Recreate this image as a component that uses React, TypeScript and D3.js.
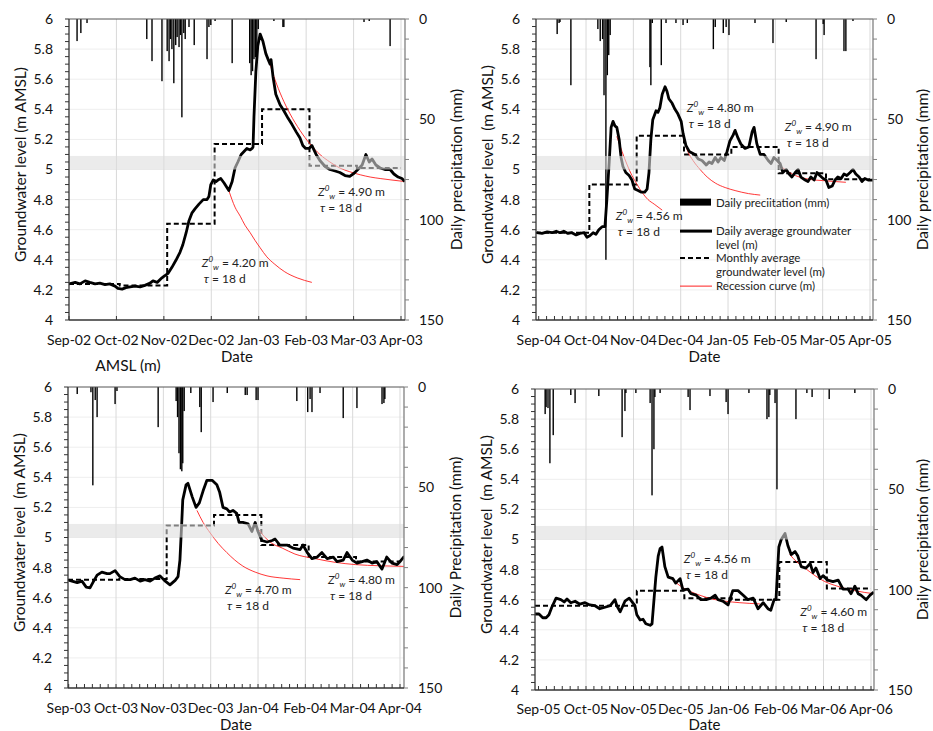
import React from "react";
import * as d3 from "d3";

const W = 933;
const H = 731;
const FONT = "Lato, 'Open Sans', sans-serif";

// x values are months since 1 September (0 = 1 Sep, 7 = 1 Apr)
// daily average groundwater level (m AMSL)
const gw0203 = [[0,4.24],[.13,4.25],[.23,4.24],[.34,4.26],[.44,4.25],[.55,4.24],[.65,4.245],[.76,4.235],[.86,4.24],[.97,4.225],[1.03,4.21],[1.12,4.205],[1.2,4.215],[1.29,4.22],[1.39,4.225],[1.5,4.22],[1.6,4.23],[1.71,4.245],[1.77,4.26],[1.86,4.25],[1.96,4.28],[2,4.29],[2.09,4.31],[2.17,4.35],[2.26,4.4],[2.34,4.45],[2.4,4.5],[2.47,4.58],[2.53,4.66],[2.59,4.71],[2.66,4.74],[2.74,4.77],[2.83,4.8],[2.91,4.8],[2.95,4.82],[2.99,4.9],[3.04,4.93],[3.1,4.92],[3.14,4.93],[3.2,4.94],[3.27,4.91],[3.33,4.88],[3.37,4.86],[3.44,4.92],[3.5,5.01],[3.56,5.05],[3.63,5.1],[3.69,5.12],[3.75,5.14],[3.82,5.13],[3.86,5.14],[3.88,5.15],[3.9,5.35],[3.94,5.65],[3.98,5.82],[4.03,5.9],[4.09,5.85],[4.15,5.77],[4.2,5.73],[4.24,5.7],[4.26,5.73],[4.3,5.62],[4.36,5.5],[4.45,5.43],[4.53,5.39],[4.62,5.34],[4.7,5.3],[4.79,5.25],[4.87,5.21],[4.93,5.16],[4.99,5.14],[5.06,5.14],[5.12,5.16],[5.21,5.1],[5.29,5.06],[5.4,5.02],[5.5,5],[5.61,4.99],[5.71,4.98],[5.82,4.96],[5.92,4.955],[6.01,4.975],[6.09,5],[6.18,5.03],[6.26,5.1],[6.33,5.05],[6.39,5.07],[6.47,5.03],[6.56,5.01],[6.66,5],[6.77,5],[6.85,4.97],[6.94,4.95],[7.02,4.94],[7.08,4.92]];
const gw0405 = [[-0.04,4.58],[.07,4.575],[.18,4.585],[.28,4.58],[.37,4.59],[.45,4.58],[.53,4.59],[.62,4.575],[.7,4.58],[.79,4.565],[.87,4.575],[.96,4.58],[1.02,4.55],[1.08,4.56],[1.15,4.58],[1.21,4.57],[1.27,4.6],[1.34,4.62],[1.4,4.62],[1.44,4.8],[1.49,5.05],[1.53,5.28],[1.57,5.32],[1.61,5.29],[1.65,5.28],[1.7,5.2],[1.74,5.08],[1.78,5.02],[1.84,4.98],[1.91,4.96],[1.97,4.93],[2.03,4.87],[2.1,4.86],[2.16,4.85],[2.24,4.85],[2.29,4.87],[2.33,4.98],[2.37,5.2],[2.41,5.33],[2.48,5.39],[2.52,5.38],[2.56,5.41],[2.61,5.5],[2.67,5.55],[2.71,5.52],[2.75,5.47],[2.82,5.44],[2.88,5.4],[2.94,5.37],[3.01,5.32],[3.05,5.24],[3.11,5.16],[3.18,5.12],[3.24,5.11],[3.3,5.1],[3.37,5.07],[3.45,5.06],[3.54,5.03],[3.6,5.05],[3.66,5.04],[3.73,5.08],[3.79,5.05],[3.85,5.08],[3.92,5.06],[3.98,5.12],[4.04,5.19],[4.11,5.23],[4.15,5.26],[4.21,5.21],[4.27,5.17],[4.36,5.14],[4.44,5.15],[4.51,5.25],[4.55,5.28],[4.61,5.17],[4.68,5.1],[4.76,5.1],[4.85,5.06],[4.91,5.04],[4.97,5.08],[5.04,5.06],[5.1,5.04],[5.16,4.98],[5.23,5],[5.29,4.97],[5.35,4.95],[5.42,4.98],[5.48,5],[5.54,4.95],[5.63,4.93],[5.69,4.92],[5.75,4.95],[5.82,4.93],[5.88,4.98],[5.94,4.96],[6.01,4.94],[6.07,4.93],[6.13,4.88],[6.2,4.89],[6.26,4.93],[6.32,4.95],[6.39,4.94],[6.45,4.97],[6.51,4.96],[6.58,4.98],[6.64,5],[6.7,4.97],[6.77,4.95],[6.83,4.92],[6.89,4.94],[6.96,4.93],[7.06,4.93]];
const gw0304 = [[0,4.717],[.07,4.71],[.18,4.7],[.28,4.71],[.37,4.67],[.45,4.665],[.51,4.7],[.6,4.75],[.7,4.77],[.81,4.76],[.87,4.76],[.98,4.78],[1.08,4.74],[1.19,4.72],[1.3,4.72],[1.4,4.73],[1.51,4.71],[1.61,4.72],[1.72,4.71],[1.82,4.73],[1.93,4.745],[2.04,4.71],[2.14,4.685],[2.25,4.715],[2.31,4.74],[2.35,4.85],[2.39,5.11],[2.41,5.25],[2.48,5.35],[2.52,5.36],[2.61,5.27],[2.69,5.2],[2.76,5.23],[2.84,5.31],[2.92,5.38],[3.03,5.38],[3.13,5.35],[3.19,5.3],[3.26,5.2],[3.34,5.19],[3.4,5.17],[3.47,5.18],[3.55,5.16],[3.6,5.1],[3.68,5.1],[3.79,5.09],[3.87,5.04],[3.94,5.1],[4,5.04],[4.08,4.98],[4.19,4.97],[4.3,4.98],[4.36,4.99],[4.46,4.95],[4.61,4.95],[4.74,4.93],[4.89,4.92],[4.95,4.95],[5.04,4.9],[5.14,4.86],[5.25,4.87],[5.35,4.9],[5.46,4.86],[5.59,4.87],[5.67,4.84],[5.8,4.85],[5.88,4.9],[5.99,4.85],[6.09,4.83],[6.2,4.84],[6.3,4.85],[6.41,4.83],[6.51,4.84],[6.62,4.79],[6.72,4.87],[6.83,4.83],[6.94,4.82],[7,4.84],[7.09,4.875]];
const gw0506 = [[-0.07,4.505],[.01,4.505],[.09,4.48],[.16,4.48],[.22,4.5],[.28,4.55],[.37,4.61],[.47,4.6],[.54,4.585],[.6,4.605],[.68,4.58],[.77,4.59],[.87,4.57],[.98,4.58],[1.08,4.565],[1.19,4.56],[1.29,4.54],[1.4,4.55],[1.51,4.56],[1.61,4.6],[1.65,4.56],[1.72,4.52],[1.82,4.59],[1.91,4.61],[1.97,4.585],[2.03,4.56],[2.07,4.5],[2.14,4.465],[2.2,4.47],[2.26,4.44],[2.35,4.43],[2.39,4.44],[2.47,4.75],[2.52,4.89],[2.56,4.94],[2.6,4.95],[2.66,4.82],[2.73,4.75],[2.83,4.74],[2.89,4.71],[2.98,4.74],[3.04,4.665],[3.15,4.67],[3.21,4.64],[3.32,4.63],[3.42,4.6],[3.53,4.6],[3.63,4.61],[3.72,4.63],[3.78,4.6],[3.88,4.59],[3.99,4.565],[4.09,4.66],[4.2,4.66],[4.31,4.63],[4.41,4.6],[4.52,4.61],[4.62,4.54],[4.73,4.58],[4.83,4.54],[4.89,4.53],[4.96,4.6],[5,4.6],[5.06,4.95],[5.11,5],[5.19,5.04],[5.25,4.96],[5.32,4.9],[5.4,4.92],[5.46,4.89],[5.53,4.82],[5.63,4.81],[5.72,4.84],[5.78,4.78],[5.84,4.81],[5.93,4.74],[5.99,4.76],[6.09,4.73],[6.2,4.72],[6.31,4.73],[6.41,4.67],[6.52,4.67],[6.58,4.64],[6.66,4.69],[6.73,4.64],[6.79,4.63],[6.9,4.6],[6.98,4.63],[7.06,4.65]];

// monthly average groundwater level, Sep..Mar
const monthly0203 = [4.24, 4.23, 4.64, 5.17, 5.4, 5.025, 5.01];
const monthly0405 = [4.58, 4.9, 5.225, 5.1, 5.15, 4.975, 4.935];
const monthly0304 = [4.72, 4.725, 5.08, 5.15, 4.95, 4.87, 4.84];
const monthly0506 = [4.56, 4.56, 4.66, 4.61, 4.6, 4.85, 4.675];

// recession curves
const rec0203 = [
  [[3.37,4.86],[3.5,4.75],[3.61,4.69],[3.71,4.63],[3.82,4.58],[3.92,4.53],[4.03,4.48],[4.17,4.42],[4.34,4.37],[4.55,4.32],[4.81,4.28],[5.12,4.25]],
  [[4.2,5.74],[4.34,5.6],[4.49,5.48],[4.66,5.37],[4.87,5.26],[5.08,5.17],[5.29,5.1],[5.5,5.05],[5.71,5.01],[5.92,4.985],[6.14,4.965],[6.35,4.95],[6.56,4.94],[6.81,4.93],[7.08,4.92]],
];
const rec0405 = [
  [[1.65,5.22],[1.76,5.12],[1.87,5.03],[1.97,4.96],[2.08,4.9],[2.18,4.85],[2.31,4.8],[2.44,4.77],[2.61,4.73]],
  [[3.05,5.22],[3.15,5.12],[3.26,5.06],[3.41,5],[3.56,4.95],[3.73,4.91],[3.94,4.88],[4.15,4.86],[4.43,4.84],[4.68,4.83]],
  [[4.99,5.08],[5.1,5.03],[5.25,4.99],[5.42,4.96],[5.63,4.94],[5.84,4.93],[6.05,4.925],[6.26,4.92],[6.49,4.915]],
];
const rec0304 = [
  [[2.71,5.18],[2.84,5.1],[2.99,5.03],[3.16,4.96],[3.34,4.9],[3.51,4.85],[3.68,4.81],[3.94,4.77],[4.19,4.745],[4.53,4.73],[4.89,4.72]],
  [[4.02,5.05],[4.15,5],[4.3,4.96],[4.51,4.93],[4.78,4.89],[5.2,4.86],[5.63,4.835],[6.05,4.82],[6.58,4.812],[7.09,4.808]],
];
const rec0506 = [
  [[2.73,4.76],[2.87,4.72],[3.04,4.68],[3.23,4.65],[3.44,4.625],[3.65,4.605],[3.93,4.59],[4.24,4.58],[4.66,4.572]],
  [[5.29,4.9],[5.44,4.85],[5.61,4.81],[5.82,4.76],[6.03,4.72],[6.24,4.695],[6.45,4.675],[6.66,4.66],[6.87,4.648],[7.06,4.64]],
];

// daily precipitation (mm)
const rain0203 = [[.17,11],[.25,7],[.38,2],[1.64,10],[1.75,21],[1.96,31],[2.07,16],[2.11,21],[2.14,10],[2.17,15],[2.21,32],[2.25,13],[2.28,9],[2.32,14],[2.35,8],[2.38,49],[2.42,7],[2.45,10],[2.53,4],[2.64,13],[2.91,20],[2.95,4],[2.99,3],[3.08,1],[3.44,22],[3.81,22],[3.84,28],[3.87,26],[3.9,20],[3.93,19],[3.96,22],[3.99,5],[4.32,1],[4.51,4],[4.53,4],[6.22,1.5],[6.33,1],[6.77,13.5]];
const rain0405 = [[.39,7.5],[.43,2],[.45,1.5],[.68,33],[1.25,5],[1.3,11],[1.35,10],[1.38,38],[1.42,120],[1.45,28],[1.48,18],[1.51,8],[2.35,24],[2.37,33],[2.4,2],[2.59,23],[2.69,2],[2.9,2],[3.05,3],[3.14,2],[3.69,15],[3.73,4],[3.9,7],[3.96,4],[4.02,8],[4.57,2],[4.95,12],[5.23,1.5],[5.86,20],[6.01,2.5],[6.03,8],[6.45,16],[6.49,16],[6.64,1]];
const rain0304 = [[.18,3.5],[.47,2.6],[.51,49],[.56,6.5],[.6,15],[.98,8.5],[1.02,2],[1.89,20],[2.27,7],[2.3,15],[2.33,33],[2.36,41],[2.39,42],[2.41,38],[2.44,12],[2.58,3],[2.77,10],[2.8,22.5],[3.05,7.5],[3.35,3],[3.73,4],[3.77,4],[3.96,6.5],[4,6.5],[4.82,7],[5.05,12.5],[5.1,6],[5.14,12.5],[5.31,3],[5.8,15.5],[6.09,10.5],[6.62,8.5],[6.66,8],[6.68,6]];
const rain0506 = [[.14,12.5],[.16,9],[.2,9.5],[.24,37],[.31,23],[.68,3],[.77,7],[1.27,3.5],[1.76,24],[1.82,11],[1.84,2],[2.05,2],[2.35,7],[2.39,53],[2.43,30],[2.45,4],[2.56,2],[3.15,4],[3.19,10.5],[3.61,3.5],[3.95,6.5],[3.99,12.5],[4.43,2],[4.81,15],[4.85,14],[4.87,3],[4.98,7],[5.02,50],[5.42,15],[5.65,2],[5.76,4],[6.12,5],[6.66,2]];

const months0203 = ["Sep-02", "Oct-02", "Nov-02", "Dec-02", "Jan-03", "Feb-03", "Mar-03", "Apr-03"];
const months0405 = ["Sep-04", "Oct-04", "Nov-04", "Dec-04", "Jan-05", "Feb-05", "Mar-05", "Apr-05"];
const months0304 = ["Sep-03", "Oct-03", "Nov-03", "Dec-03", "Jan-04", "Feb-04", "Mar-04", "Apr-04"];
const months0506 = ["Sep-05", "Oct-05", "Nov-05", "Dec-05", "Jan-06", "Feb-06", "Mar-06", "Apr-06"];

// recession parameter notes: [month position, level, Z0w]
const notes0203 = [[2.8, 4.38, "4.20"], [5.25, 4.85, "4.90"]];
const notes0405 = [[3.13, 5.41, "4.80"], [5.2, 5.28, "4.90"], [1.63, 4.69, "4.56"]];
const notes0304 = [[3.3, 4.65, "4.70"], [5.48, 4.72, "4.80"]];
const notes0506 = [[3.06, 4.87, "4.56"], [5.51, 4.52, "4.60"]];

const bandRange = [5.0, 5.09];
const levelTicks = [4, 4.2, 4.4, 4.6, 4.8, 5, 5.2, 5.4, 5.6, 5.8, 6];
const rainTicks = [0, 50, 100, 150];

const legendItems = [
  { kind: "bar", lines: ["Daily preciitation (mm)"] },
  { kind: "line", lines: ["Daily average groundwater", "level (m)"] },
  { kind: "dash", lines: ["Monthly average", "groundwater level (m)"] },
  { kind: "red", lines: ["Recession curve (m)"] },
];

const STEP_SHIFT = 0.07;

const panels = [
  { id: "a", left: 69, right: 405, top: 19, bottom: 320, sepX: 69, step: 47.43, gw: gw0203, monthly: monthly0203, rec: rec0203, rain: rain0203, months: months0203, notes: notes0203, leftTitle: "Groundwater level (m AMSL)", rightTitle: "Daily precipitation (mm)", minorX: false, legend: false },
  { id: "b", left: 536, right: 873, top: 19, bottom: 320, sepX: 538.7, step: 47.33, gw: gw0405, monthly: monthly0405, rec: rec0405, rain: rain0405, months: months0405, notes: notes0405, leftTitle: "Groundwater level  (m AMSL)", rightTitle: "Daily precipitation (mm)", minorX: true, legend: true },
  { id: "c", left: 68, right: 404, top: 387, bottom: 688, sepX: 68.7, step: 47.33, gw: gw0304, monthly: monthly0304, rec: rec0304, rain: rain0304, months: months0304, notes: notes0304, leftTitle: "Groundwater level  (m AMSL)", rightTitle: "Daily Precipitation (mm)", minorX: true, legend: false },
  { id: "d", left: 535, right: 874, top: 389, bottom: 690, sepX: 538.5, step: 47.5, gw: gw0506, monthly: monthly0506, rec: rec0506, rain: rain0506, months: months0506, notes: notes0506, leftTitle: "Groundwater level  (m AMSL)", rightTitle: "Daily precipitation (mm)", minorX: true, legend: false },
];

function Note({ x, y, z0 }) {
  return (
    <g fontSize={12} fill="#222" style={{ whiteSpace: "pre" }}>
      <text x={x} y={y + 4}>
        <tspan fontStyle="italic">Z</tspan>
        <tspan fontStyle="italic" fontSize={8} dy={-5}>0</tspan>
        <tspan fontStyle="italic" fontSize={8} dy={8}>w</tspan>
        <tspan dy={-3}>{` = ${z0} m`}</tspan>
      </text>
      <text x={x + 2} y={y + 20}>
        <tspan fontStyle="italic">τ</tspan>
        <tspan>{" = 18 d"}</tspan>
      </text>
    </g>
  );
}

function Legend({ x, y }) {
  const rows = [0, 28.5, 55.5, 83.5];
  return (
    <g fontSize={11.5} fill="#222">
      {legendItems.map((it, i) => {
        const cy = y + rows[i];
        return (
          <g key={i}>
            {it.kind === "bar" && <rect x={x} y={cy - 4} width={31} height={7} fill="#000" />}
            {it.kind === "line" && <line x1={x} x2={x + 32} y1={cy} y2={cy} stroke="#000" strokeWidth={3} />}
            {it.kind === "dash" && <line x1={x} x2={x + 32} y1={cy} y2={cy} stroke="#000" strokeWidth={2} strokeDasharray="5,3" />}
            {it.kind === "red" && <line x1={x} x2={x + 32} y1={cy} y2={cy} stroke="#ff2020" strokeWidth={1} />}
            {it.lines.map((l, j) => (
              <text key={j} x={x + 36} y={cy + 4 + j * 14}>{l}</text>
            ))}
          </g>
        );
      })}
    </g>
  );
}

function Panel({ p }) {
  const x = d3.scaleLinear().domain([0, 7]).range([p.sepX, p.sepX + 7 * p.step]);
  const y = d3.scaleLinear().domain([4, 6]).range([p.bottom, p.top]);
  const yRain = d3.scaleLinear().domain([0, 150]).range([p.top, p.bottom]);
  const tStart = x.invert(p.left);

  const gwLine = d3.line<number[]>().x((d) => x(d[0])).y((d) => y(d[1]));
  const recLine = d3.line<number[]>().x((d) => x(d[0])).y((d) => y(d[1])).curve(d3.curveMonotoneX);
  const stepLine = d3.line<number[]>().x((d) => x(d[0])).y((d) => y(d[1])).curve(d3.curveStepAfter);

  const monthlyPts = p.monthly.map((v, i) => [i === 0 ? tStart : i + STEP_SHIFT, v]);
  monthlyPts.push([7, p.monthly[p.monthly.length - 1]]);

  const minorLevel = d3.range(0, 41).map((i) => 4 + i * 0.05);
  const minorMonth = d3.range(0, 43).map((i) => i / 6);
  const rainMinor = d3.range(0, 151, 10);
  const mid = (p.top + p.bottom) / 2;
  const clipId = `clip-${p.id}`;
  const rightTitleX = Math.min(p.right + 57, 928);
  const dateY = Math.min(p.bottom + 42, 729.5);
  const labelY = Math.min(p.bottom + 25, dateY - 16);

  return (
    <g>
      <defs>
        <clipPath id={clipId}>
          <rect x={p.left} y={p.top} width={p.right - p.left} height={p.bottom - p.top} />
        </clipPath>
      </defs>

      {/* horizontal and monthly gridlines */}
      {levelTicks.slice(1, -1).map((v) => (
        <line key={v} x1={p.left} x2={p.right} y1={y(v)} y2={y(v)} stroke="#eeeeee" strokeWidth={1} />
      ))}
      {d3.range(1, 8).map((m) => (
        <line key={m} x1={x(m)} x2={x(m)} y1={p.top} y2={p.bottom} stroke="#d9d9d9" strokeWidth={1} />
      ))}

      <g clipPath={`url(#${clipId})`}>
        {/* precipitation bars hang from the top */}
        {p.rain.map((d, i) => (
          <rect key={i} x={x(d[0]) - 0.7} y={yRain(0)} width={1.4} height={yRain(d[1]) - yRain(0)} fill="#000" />
        ))}
        <path d={stepLine(monthlyPts)} fill="none" stroke="#000" strokeWidth={2} strokeDasharray="5,3" />
        {p.rec.map((c, i) => (
          <path key={i} d={recLine(c)} fill="none" stroke="#ff2020" strokeWidth={0.9} />
        ))}
        <path d={gwLine(p.gw)} fill="none" stroke="#000" strokeWidth={2.8} strokeLinejoin="round" />
        <rect x={p.left} y={y(bandRange[1])} width={p.right - p.left} height={y(bandRange[0]) - y(bandRange[1])} fill="#dcdcdc" fillOpacity={0.58} />
      </g>

      {/* frame */}
      <line x1={p.left} x2={p.right} y1={p.top} y2={p.top} stroke="#555" strokeWidth={1} />
      <line x1={p.right} x2={p.right} y1={p.top} y2={p.bottom} stroke="#808080" strokeWidth={1.3} />
      <line x1={p.left} x2={p.left} y1={p.top} y2={p.bottom} stroke="#333" strokeWidth={1.3} />
      <line x1={p.left} x2={p.right} y1={p.bottom} y2={p.bottom} stroke="#333" strokeWidth={1.3} />

      {/* left axis ticks */}
      {minorLevel.map((v, i) => (
        <line key={i} x1={p.left - 4} x2={p.left} y1={y(v)} y2={y(v)} stroke="#333" strokeWidth={1} />
      ))}
      {levelTicks.map((v) => (
        <text key={v} x={p.left - 16} y={y(v)} dy="0.35em" textAnchor="end" fontSize={14} fill="#111">
          {d3.format("~g")(v)}
        </text>
      ))}

      {/* right axis ticks */}
      {rainMinor.map((v) => (
        <line key={v} x1={p.right} x2={p.right + 4} y1={yRain(v)} y2={yRain(v)} stroke="#808080" strokeWidth={1} />
      ))}
      {rainTicks.map((v) => (
        <text key={v} x={p.right + 14} y={yRain(v)} dy="0.35em" fontSize={14} fill="#111">{v}</text>
      ))}

      {/* bottom axis ticks */}
      {(p.minorX ? minorMonth : d3.range(0, 8)).map((m, i) => (
        <line key={i} x1={x(m)} x2={x(m)} y1={p.bottom} y2={p.bottom - 4} stroke="#333" strokeWidth={1} />
      ))}
      {p.months.map((lab, i) => (
        <text key={lab} x={x(i)} y={labelY} textAnchor="middle" fontSize={14} fill="#111">{lab}</text>
      ))}

      {/* titles */}
      <text x={(p.left + p.right) / 2} y={dateY} textAnchor="middle" fontSize={15} fill="#111">Date</text>
      <text transform={`translate(${p.left - 43},${mid - 5}) rotate(-90)`} textAnchor="middle" fontSize={15.5} fill="#111" style={{ whiteSpace: "pre" }}>
        {p.leftTitle}
      </text>
      <text transform={`translate(${rightTitleX},${mid}) rotate(-90)`} textAnchor="middle" fontSize={15.5} fill="#111">
        {p.rightTitle}
      </text>

      {p.notes.map((n, i) => (
        <Note key={i} x={x(n[0])} y={y(n[1])} z0={n[2]} />
      ))}
      {p.legend && <Legend x={680} y={y(4.78)} />}
    </g>
  );
}

export default function App() {
  return (
    <svg width={W} height={H} style={{ position: "absolute", left: 0, top: 0 }} fontFamily={FONT}>
      <rect width={W} height={H} fill="#fff" />
      {panels.map((p) => (
        <Panel key={p.id} p={p} />
      ))}
      <text x={128} y={371} textAnchor="middle" fontSize={15.5} fill="#111">AMSL (m)</text>
    </svg>
  );
}
